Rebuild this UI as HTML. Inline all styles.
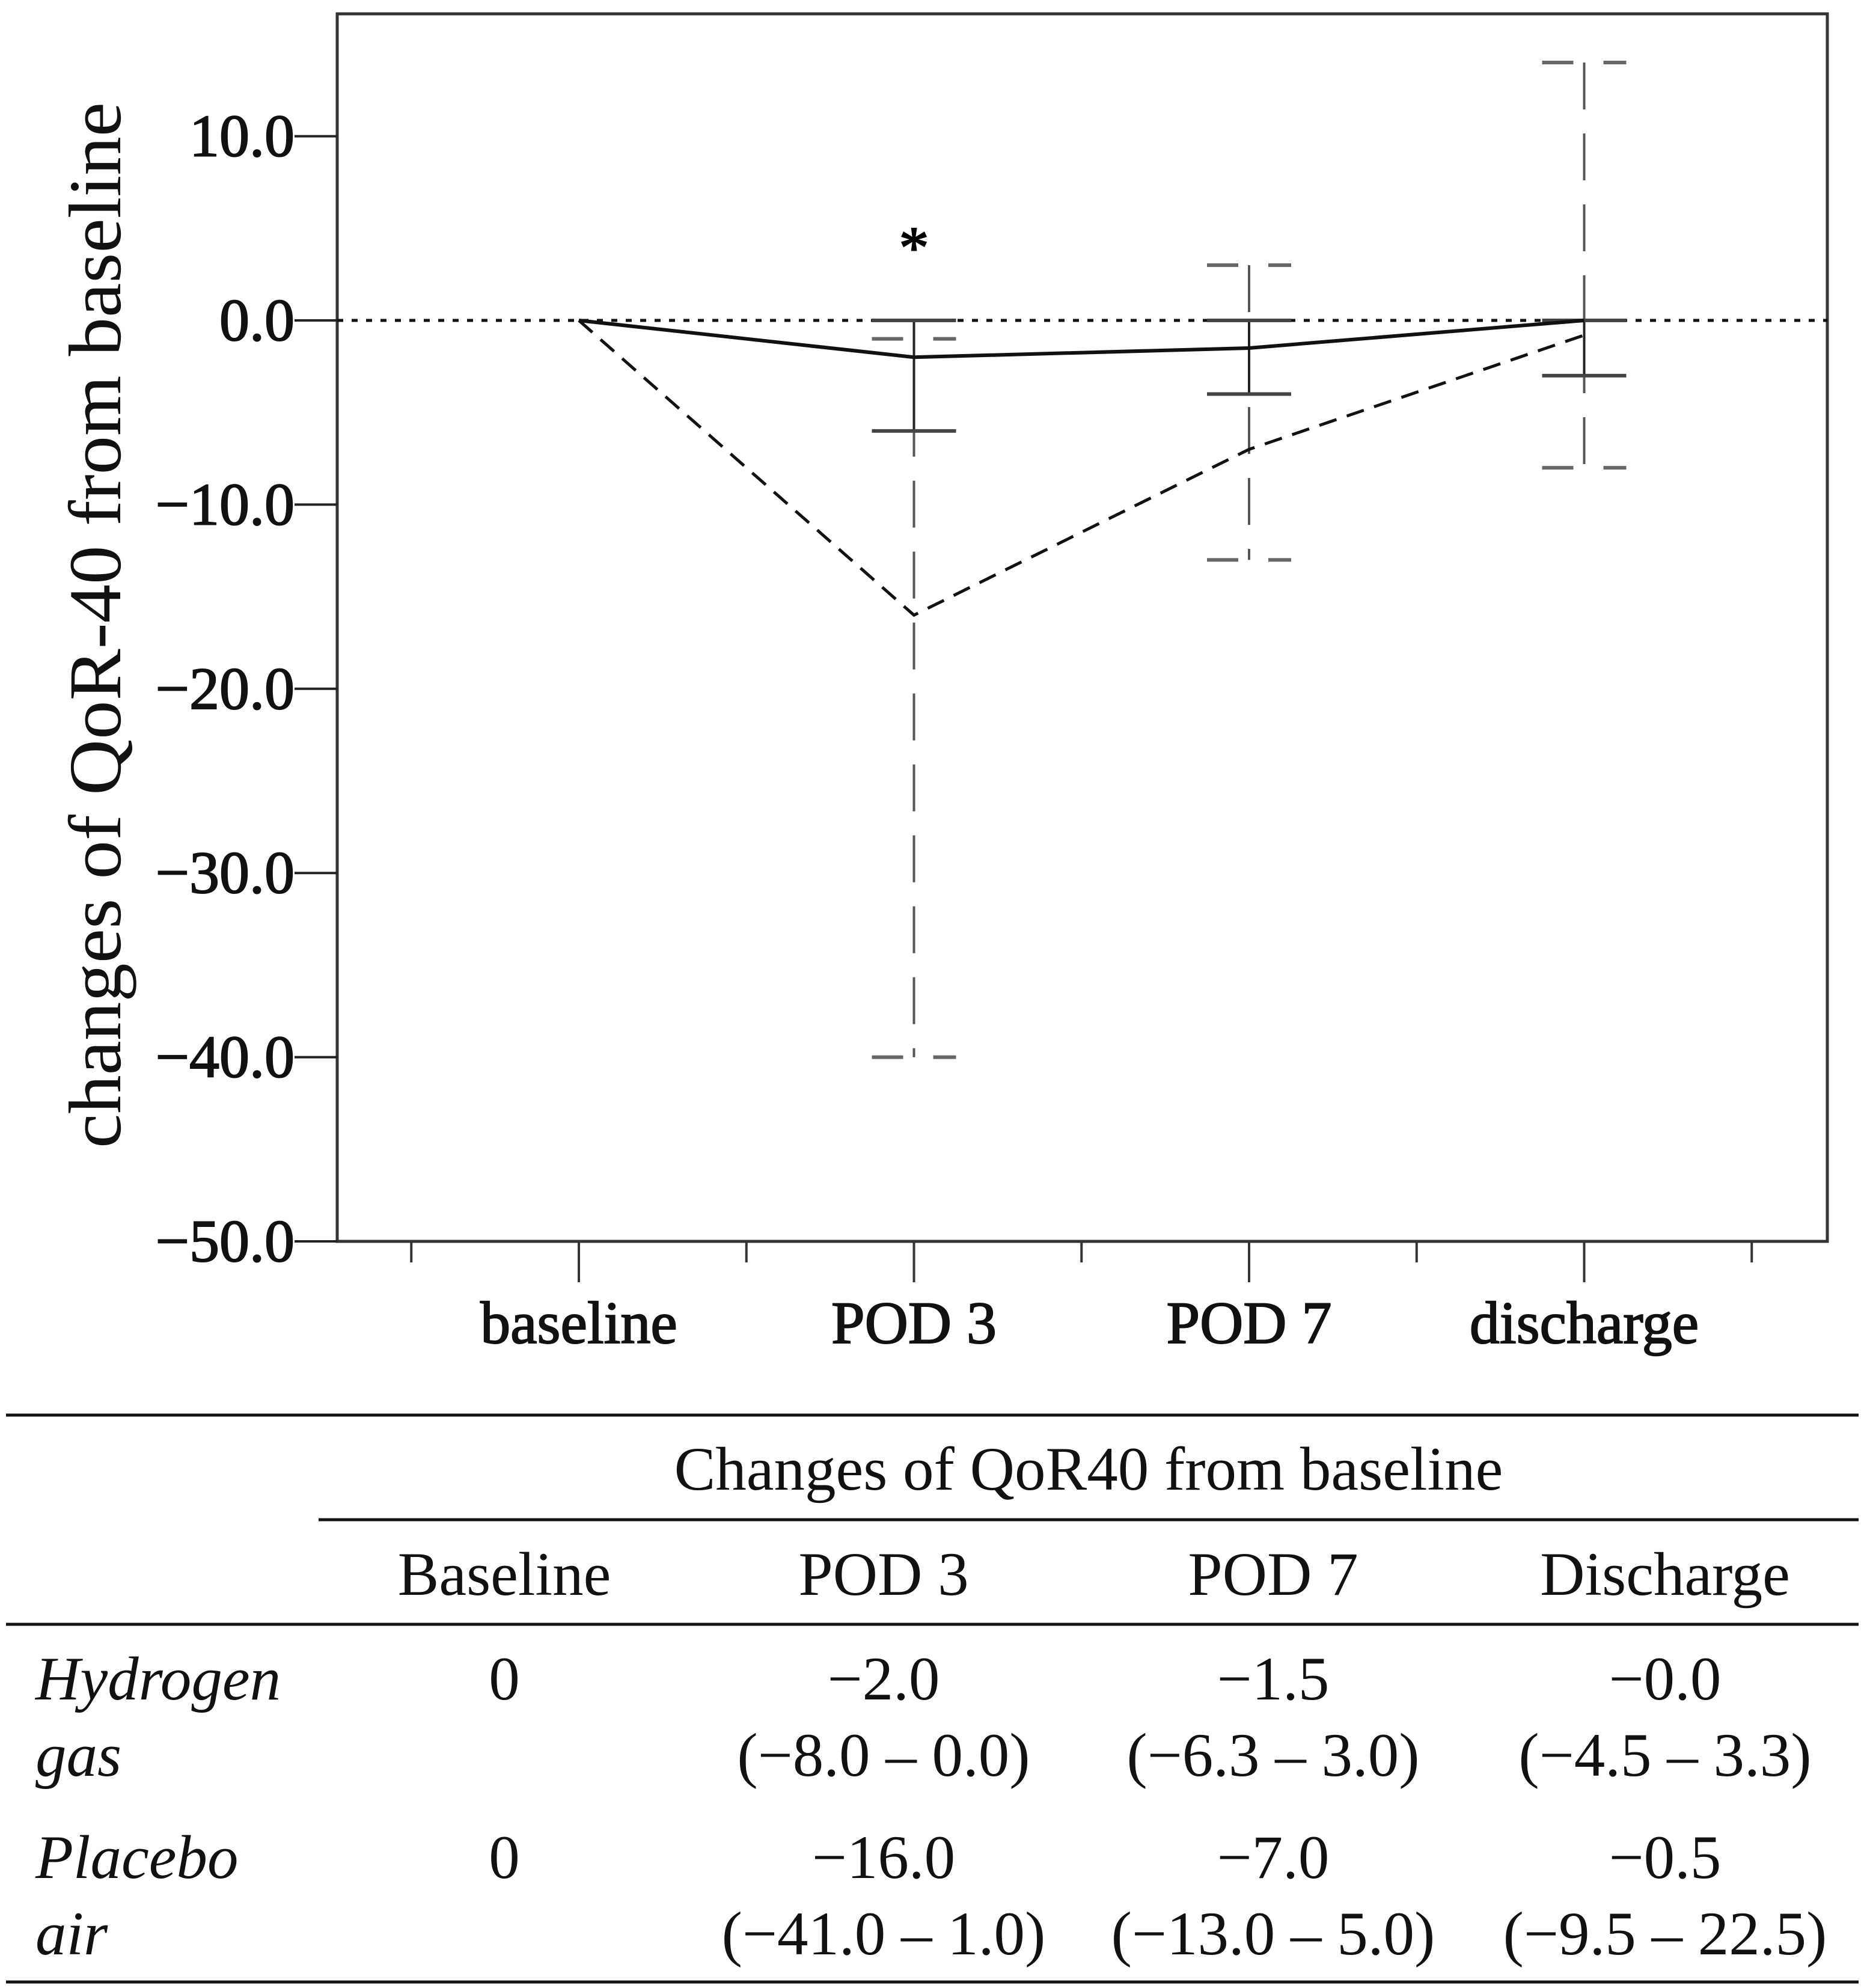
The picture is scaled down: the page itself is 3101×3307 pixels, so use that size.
<!DOCTYPE html>
<html><head><meta charset="utf-8"><style>
html,body{margin:0;padding:0;background:#fff;}
svg{display:block;font-family:"Liberation Serif",serif;}
</style></head><body>
<svg width="3101" height="3307" viewBox="0 0 3101 3307">
<g id="chart"></g>
<g id="table"></g>
</svg>
<script>
const categories = ["baseline","POD 3","POD 7","discharge"];
const h2Mean = [0, -2.0, -1.5, 0];
const h2Low = [null, -6.0, -4.0, -3.0];
const h2High = [null, 0, 0, 0];
const plMean = [0, -16.0, -7.0, -0.8];
const plLow = [null, -40.0, -13.0, -8.0];
const plHigh = [null, -1.0, 3.0, 14.0];
const yTicks = [10, 0, -10, -20, -30, -40, -50];
const yTickLabels = ["10.0","0.0","\u221210.0","\u221220.0","\u221230.0","\u221240.0","\u221250.0"];

const NS = "http://www.w3.org/2000/svg";
const chart = document.getElementById("chart");
const L = 561, R = 3040, T = 23, B = 2065;
function yS(v){ return 533 - v * 30.64; }
function xS(i){ return 963 + i * 557.5; }
function mk(tag, attrs, parent){
  const e = document.createElementNS(NS, tag);
  for (const k in attrs) e.setAttribute(k, attrs[k]);
  (parent || chart).appendChild(e);
  return e;
}
let fr = mk("rect", {x:L, y:T, width:R-L, height:B-T, fill:"none", stroke:"#333", "stroke-width":5});


yTicks.forEach((v, i) => {
  const t = mk("line", {x1:490, x2:L, y1:yS(v), y2:yS(v), stroke:"#222", "stroke-width":4});
  
  
  const tx = mk("text", {x:490, y:yS(v)+33, "text-anchor":"end", "font-size":100, fill:"#111", stroke:"#111", "stroke-width":2});
  tx.textContent = yTickLabels[i];
  
  
});
for (let i = -0.5; i <= 3.5; i += 0.5) {
  const major = Number.isInteger(i);
  const t = mk("line", {x1:xS(i), x2:xS(i), y1:B, y2:major ? 2133 : 2100, stroke:"#333", "stroke-width":4});
  
  
}
categories.forEach((c, i) => {
  const tx = mk("text", {x:xS(i), y:2234, "text-anchor":"middle", "font-size":100, fill:"#111", stroke:"#111", "stroke-width":2});
  tx.textContent = c;
  
  
});
const yt = mk("text", {x:0, y:0, transform:"translate(200,1040) rotate(-90)", "text-anchor":"middle", "font-size":124, fill:"#111", textLength:1740, lengthAdjust:"spacingAndGlyphs"});
yt.textContent = "changes of QoR-40 from baseline";


const zl = mk("line", {x1:L, x2:R, y1:yS(0), y2:yS(0), stroke:"#111", "stroke-width":5, "stroke-dasharray":"10 14"});


categories.forEach((c, i) => {
  if (plLow[i] === null) return;
  const x = xS(i);
  const v = mk("line", {x1:x, x2:x, y1:yS(plHigh[i]), y2:yS(plLow[i]), stroke:"#555", "stroke-width":4, "stroke-dasharray":"78 40"});
  
  
  [plHigh[i], plLow[i]].forEach(val => {
    const cp = mk("line", {x1:x-70, x2:x+70, y1:yS(val), y2:yS(val), stroke:"#666", "stroke-width":6, "stroke-dasharray":"52 50 38 10"});
    
    
  });
});
categories.forEach((c, i) => {
  if (h2Low[i] === null) return;
  const x = xS(i);
  const v = mk("line", {x1:x, x2:x, y1:yS(h2High[i]), y2:yS(h2Low[i]), stroke:"#222", "stroke-width":4});
  
  
  [h2High[i], h2Low[i]].forEach(val => {
    const cp = mk("line", {x1:x-70, x2:x+70, y1:yS(val), y2:yS(val), stroke:"#444", "stroke-width":6});
    
    
  });
});
const plPts = plMean.map((v, i) => xS(i) + "," + yS(v)).join(" ");
const pl = mk("polyline", {points:plPts, fill:"none", stroke:"#111", "stroke-width":5, "stroke-dasharray":"30 18"});


const hPts = h2Mean.map((v, i) => xS(i) + "," + yS(v)).join(" ");
const hl = mk("polyline", {points:hPts, fill:"none", stroke:"#111", "stroke-width":6});


const ast = mk("text", {x:xS(1), y:445, "text-anchor":"middle", "font-size":100, fill:"#000", stroke:"#000", "stroke-width":2});
ast.textContent = "*";



const tbl = document.getElementById("table");
function tl(x1, x2, y, w, name){
  const e = mk("line", {x1:x1, x2:x2, y1:y, y2:y, stroke:"#111", "stroke-width":w}, tbl);
  
  
}
tl(10, 3092, 2354, 5, 'table-top-rule');
tl(530, 3092, 2528, 5, 'table-header-rule');
tl(10, 3092, 2702, 5, 'table-mid-rule');
tl(10, 3092, 3297, 5, 'table-bottom-rule');
function tt(x, y, s, name, anchor, italic){
  const e = mk("text", {x:x, y:y, "text-anchor":anchor || "middle", "font-size":103, fill:"#111"}, tbl);
  if (italic) e.setAttribute("font-style", "italic");
  e.textContent = s;
  
  
}
tt(1811, 2478, "Changes of QoR40 from baseline", 'table-title');
const colX = [839, 1470, 2118, 2770];
["Baseline","POD 3","POD 7","Discharge"].forEach((s, i) => tt(colX[i], 2653, s, 'column-header'));
tt(59, 2827, "Hydrogen", 'row-label', "start", true);
tt(59, 2954, "gas", 'row-label', "start", true);
tt(59, 3124, "Placebo", 'row-label', "start", true);
tt(59, 3251, "air", 'row-label', "start", true);
const r1 = ["0","\u22122.0","\u22121.5","\u22120.0"];
const r1b = ["","(\u22128.0 \u2013 0.0)","(\u22126.3 \u2013 3.0)","(\u22124.5 \u2013 3.3)"];
const r2 = ["0","\u221216.0","\u22127.0","\u22120.5"];
const r2b = ["","(\u221241.0 \u2013 1.0)","(\u221213.0 \u2013 5.0)","(\u22129.5 \u2013 22.5)"];
colX.forEach((x, i) => {
  tt(x, 2827, r1[i], 'table-cell');
  if (r1b[i]) tt(x, 2954, r1b[i], 'table-cell');
  tt(x, 3124, r2[i], 'table-cell');
  if (r2b[i]) tt(x, 3251, r2b[i], 'table-cell');
});
</script>
</body></html>
